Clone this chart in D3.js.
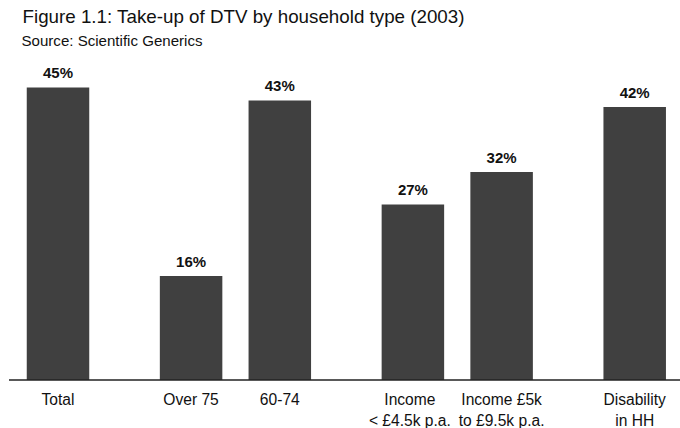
<!DOCTYPE html>
<html><head><meta charset="utf-8">
<script src="https://cdn.jsdelivr.net/npm/d3@7"></script>
<style>body{margin:0;background:#fff}svg{display:block}text{font-family:"Liberation Sans",Arial,sans-serif}</style>
</head><body><svg id="c" width="680" height="428"></svg>
<script>
const categories = [["Total"],["Over 75"],["60-74"],["Income","< £4.5k p.a."],["Income £5k","to £9.5k p.a."],["Disability","in HH"]];
const groups = [0,1,1,2,2,3];
const values = [45,16,43,27,32,42];
const valueLabels = ["45%","16%","43%","27%","32%","42%"];
const title = "Figure 1.1: Take-up of DTV by household type (2003)";
const source = "Source: Scientific Generics";

const svg = d3.select("#c");
const pos = categories.map((c,i)=> i + 0.5*groups[i]);
const x = d3.scaleLinear().domain([0, 6.5]).range([58, 634.7]);
const y = d3.scaleLinear().domain([0, 45]).range([380, 87.5]);
const bw = 62.5;

svg.append("text").attr("x",22.5).attr("y",23).attr("font-size",18.2).attr("fill","#111")
  .attr("textLength",442).attr("lengthAdjust","spacingAndGlyphs").text(title);
svg.append("text").attr("x",21.5).attr("y",45.5).attr("font-size",14.3).attr("fill","#111")
  .attr("textLength",181).attr("lengthAdjust","spacingAndGlyphs").text(source);

svg.selectAll("rect.bar").data(values).join("rect").attr("class","bar")
  .attr("x",(d,i)=>x(pos[i])-bw/2).attr("width",bw)
  .attr("y",d=>y(d)).attr("height",d=>y(0)-y(d))
  .attr("fill","#404040");

svg.selectAll("text.val").data(values).join("text").attr("class","val")
  .attr("x",(d,i)=>x(pos[i])).attr("y",d=>y(d)-9.5)
  .attr("text-anchor","middle").attr("font-size",15).attr("font-weight","bold").attr("fill","#111")
  .text((d,i)=>valueLabels[i]);

svg.append("line").attr("x1",9).attr("x2",680).attr("y1",380).attr("y2",380).attr("stroke","#222").attr("stroke-width",1.5);

const lab = svg.selectAll("text.cat").data(categories).join("text").attr("class","cat")
  .attr("text-anchor","middle").attr("font-size",15.6).attr("fill","#111");
lab.each(function(c,i){
  const t = d3.select(this);
  c.forEach((line,j)=>{
    t.append("tspan").attr("x",x(pos[i]) - (i===3 ? 3 : 0)).attr("y",405 + j*20.5).text(line);
  });
});
</script></body></html>
